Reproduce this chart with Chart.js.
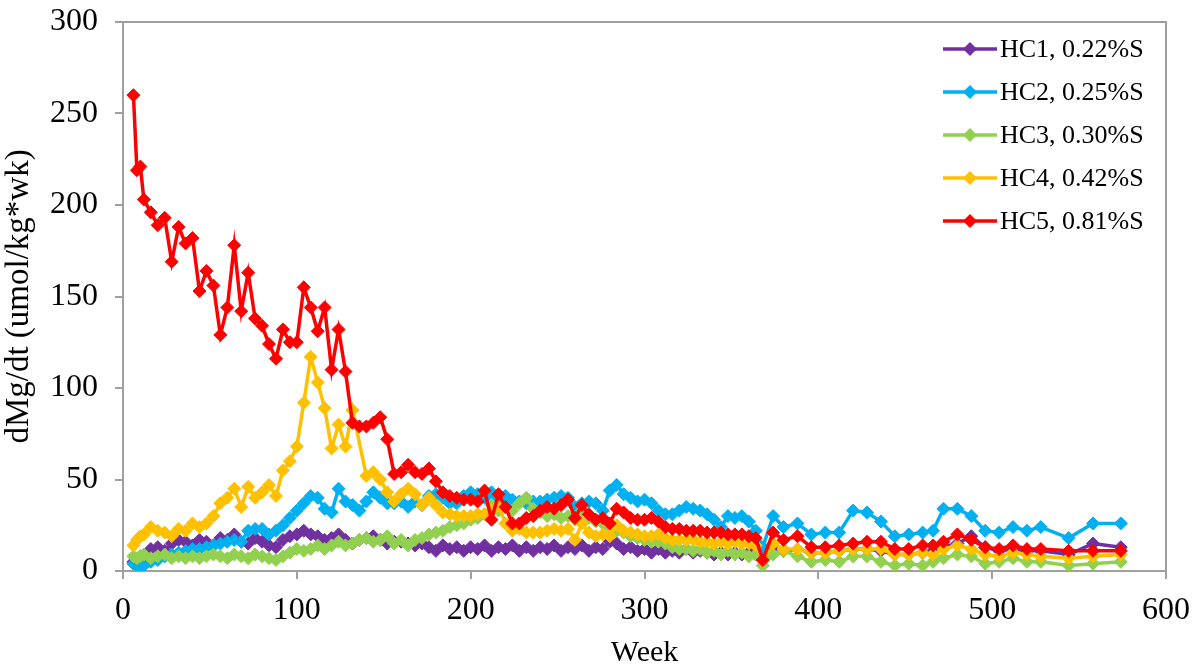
<!DOCTYPE html>
<html>
<head>
<meta charset="utf-8">
<title>dMg/dt by week</title>
<script src="https://cdn.jsdelivr.net/npm/chart.js@4.4.0/dist/chart.umd.min.js"></script>
<style>
  html, body { margin: 0; padding: 0; background: #fff; }
  #chart { display: block; }
</style>
</head>
<body>
<canvas id="chart" width="1200" height="671"></canvas>
<script>
// sampling weeks shared by all five cells
const weeks = [6, 8, 10, 12, 16, 20, 24, 28, 32, 36, 40, 44, 48, 52, 56, 60, 64, 68, 72, 76, 80, 84, 88, 92,
  96, 100, 104, 108, 112, 116, 120, 124, 128, 132, 136, 140, 144, 148, 152, 156, 160, 164, 168, 172, 176, 180,
  184, 188, 192, 196, 200, 204, 208, 212, 216, 220, 224, 228, 232, 236, 240, 244, 248, 252, 256, 260, 264, 268,
  272, 276, 280, 284, 288, 292, 296, 300, 304, 308, 312, 316, 320, 324, 328, 332, 336, 340, 344, 348, 352, 356,
  360, 364, 368, 374, 380, 388, 396, 404, 412, 420, 428, 436, 444, 452, 460, 466, 472, 480, 488, 496, 504, 512,
  520, 528, 544, 558, 574];

const hc1 = [5, 6, 8, 9,
  12, 13, 11, 15, 17, 16, 14, 17, 16, 14,
  18, 17, 20, 16, 15, 18, 16, 14, 13, 17,
  19, 20, 22, 20, 19, 17, 18, 20, 17, 15,
  17, 18, 19, 17, 15, 16, 16, 15, 14, 15,
  13, 11, 14, 12, 13, 11, 13, 12, 14, 11,
  13, 12, 14, 11, 13, 11, 13, 12, 14, 11,
  13, 12, 14, 11, 13, 12, 16, 15, 12, 13,
  11, 12, 10, 12, 10, 11, 10, 12, 10, 11,
  10, 9, 10, 9, 10, 9, 10, 9, 6,
  13, 11, 12, 10, 10, 11, 12, 12, 11, 9, 9, 10, 11, 13, 15, 19, 13, 11, 12, 11, 11, 9, 15, 13];

const hc2 = [4, 3, 2, 3,
  5, 6, 8, 9, 10, 11, 12, 12, 13, 14,
  15, 16, 17, 16, 22, 23, 23, 20, 22, 25,
  29, 33, 37, 41, 40, 34, 32, 45, 38, 36,
  33, 38, 43, 40, 37, 37, 38, 35, 38, 36,
  41, 42, 40, 37, 37, 41, 43, 42, 40, 43,
  40, 41, 39, 38, 37, 38, 38, 39, 40, 41,
  40, 35, 37, 38, 37, 33, 44, 47, 42, 40,
  38, 39, 37, 33, 31, 31, 33, 35, 34, 33,
  31, 28, 24, 30, 29, 30, 27, 22, 13,
  30, 24, 26, 20, 21, 21, 33, 32, 27, 19, 20, 21, 22, 34, 34, 30, 22, 21, 24, 22, 24, 18, 26, 26];

const hc3 = [8, 7, 8, 9,
  7, 8, 9, 7, 8, 7, 8, 7, 8, 9,
  8, 7, 9, 8, 7, 9, 8, 7, 6, 8,
  10, 12, 11, 12, 14, 12, 14, 16, 14, 15,
  17, 18, 16, 17, 19, 15, 17, 14, 17, 18,
  20, 21, 22, 24, 25, 26, 28, 29, 31, 36,
  33, 35, 33, 37, 40, 34, 32, 30, 31, 29,
  30, 28, 33, 29, 27, 26, 24, 22, 21, 19,
  18, 17, 16, 16, 15, 13, 12, 12, 11, 12,
  10, 11, 9, 11, 9, 10, 8, 9, 3,
  9, 11, 8, 5, 6, 5, 8, 8, 5, 3, 4, 3, 5, 7, 9, 8, 4, 5, 7, 5, 5, 3, 4, 5];

// week 136 was not sampled for HC4
const hc4 = [14, 17, 19, 20,
  24, 22, 21, 19, 23, 22, 26, 24, 26, 30,
  37, 40, 45, 35, 46, 40, 43, 47, 41, 55,
  60, 68, 92, 117, 103, 89, 67, 80, 68, 88,
  null, 52, 54, 50, 43, 38, 42, 45, 42, 36,
  40, 36, 32, 31, 30, 30, 30, 31, 31, 33,
  36, 26, 22, 23, 21, 21, 21, 22, 23, 22,
  23, 17, 26, 21, 19, 20, 19, 25, 22, 21,
  20, 19, 19, 20, 18, 17, 17, 17, 17, 16,
  16, 15, 16, 15, 16, 15, 15, 14, 6,
  15, 12, 12, 10, 10, 11, 12, 12, 12, 9, 9, 10, 9, 12, 14, 12, 9, 8, 10, 9, 8, 7, 8, 9];

const hc5 = [260, 219, 221, 203,
  196, 189, 193, 169, 188, 179, 182, 153, 164, 156,
  129, 144, 178, 142, 163, 138, 134, 124, 116, 132,
  125, 125, 155, 144, 131, 144, 110, 132, 109, 81,
  79, 79, 81, 84, 72, 53, 54, 58, 54, 53,
  56, 49, 43, 41, 40, 39, 39, 38, 44, 28,
  42, 35, 26, 26, 29, 30, 33, 35, 34, 36,
  39, 29, 36, 31, 28, 29, 26, 34, 32, 29,
  28, 28, 29, 27, 24, 23, 23, 22, 22, 22,
  21, 21, 21, 20, 20, 20, 19, 18, 6,
  21, 17, 19, 13, 13, 14, 15, 16, 16, 12, 12, 14, 14, 16, 20, 17, 13, 12, 14, 12, 12, 11, 11, 11];

const seriesNames = ['HC1, 0.22%S', 'HC2, 0.25%S', 'HC3, 0.30%S', 'HC4, 0.42%S', 'HC5, 0.81%S'];
const seriesColors = ['#7030A0', '#00B0F0', '#92D050', '#FFC000', '#FF0000'];
const seriesValues = [hc1, hc2, hc3, hc4, hc5];

const xTicks = [0, 100, 200, 300, 400, 500, 600];
const yTicks = [0, 50, 100, 150, 200, 250, 300];

const SERIF = '"Liberation Serif", "Times New Roman", Times, serif';
const AXIS_GRAY = '#a0a0a0';

const datasets = seriesValues.map((vals, i) => ({
  label: seriesNames[i],
  data: weeks.map((w, k) => ({ x: w, y: vals[k] })),
  borderColor: seriesColors[i],
  backgroundColor: seriesColors[i],
  borderWidth: 3.5,
  pointStyle: 'rectRot',
  pointRadius: 6.5,
  pointBorderWidth: 1,
  tension: 0,
  spanGaps: true,
  // later cells are painted over earlier ones
  order: seriesValues.length - i
}));

// top and right edges of the plot frame
const frame = {
  id: 'frame',
  afterDraw(chart) {
    const { ctx, chartArea: a } = chart;
    ctx.save();
    ctx.strokeStyle = AXIS_GRAY;
    ctx.lineWidth = 2;
    ctx.beginPath();
    ctx.moveTo(a.left, a.top);
    ctx.lineTo(a.right, a.top);
    ctx.lineTo(a.right, a.bottom);
    ctx.stroke();
    ctx.restore();
  }
};

// legend in the upper right corner of the plot
const cornerLegend = {
  id: 'cornerLegend',
  afterDraw(chart) {
    const ctx = chart.ctx;
    const x0 = 943, x1 = 997, top = 49, step = 43;
    ctx.save();
    ctx.font = '26px ' + SERIF;
    ctx.textBaseline = 'middle';
    ctx.textAlign = 'left';
    chart.data.datasets.forEach((ds, i) => {
      const y = top + i * step;
      ctx.strokeStyle = ds.borderColor;
      ctx.lineWidth = 3.5;
      ctx.beginPath();
      ctx.moveTo(x0, y);
      ctx.lineTo(x1, y);
      ctx.stroke();
      const cx = (x0 + x1) / 2, r = 7;
      ctx.fillStyle = ds.borderColor;
      ctx.beginPath();
      ctx.moveTo(cx, y - r);
      ctx.lineTo(cx + r, y);
      ctx.lineTo(cx, y + r);
      ctx.lineTo(cx - r, y);
      ctx.closePath();
      ctx.fill();
      ctx.fillStyle = '#000';
      ctx.fillText(ds.label, x1 + 3, y + 1);
    });
    ctx.restore();
  }
};

new Chart(document.getElementById('chart'), {
  type: 'line',
  data: { datasets },
  options: {
    responsive: false,
    animation: false,
    layout: { padding: { left: 0, right: 34, top: 22, bottom: 0 } },
    plugins: {
      legend: { display: false },
      tooltip: { enabled: false }
    },
    scales: {
      x: {
        type: 'linear',
        min: 0,
        max: 600,
        afterBuildTicks(scale) { scale.ticks = xTicks.map(v => ({ value: v })); },
        afterFit(scale) {
          scale.height = 100;
          scale.paddingLeft = 0;
          scale.paddingRight = 0;
        },
        ticks: { color: '#000', padding: 12, font: { family: SERIF, size: 32 } },
        grid: { drawOnChartArea: false, drawTicks: true, tickLength: 8, color: AXIS_GRAY, lineWidth: 2 },
        border: { color: AXIS_GRAY, width: 2 },
        title: { display: true, text: 'Week', color: '#000', font: { family: SERIF, size: 30 }, padding: { top: 0, bottom: 0 } }
      },
      y: {
        min: 0,
        max: 300,
        afterBuildTicks(scale) { scale.ticks = yTicks.map(v => ({ value: v })); },
        afterFit(scale) {
          // fixed gutter; the page padding already leaves room for the top label
          scale.width = 123;
          scale.paddingTop = 0;
          scale.paddingBottom = 0;
        },
        ticks: { color: '#000', padding: 17, font: { family: SERIF, size: 32 } },
        grid: { drawOnChartArea: false, drawTicks: true, tickLength: 8, color: AXIS_GRAY, lineWidth: 2 },
        border: { color: AXIS_GRAY, width: 2 },
        title: { display: true, text: 'dMg/dt (umol/kg*wk)', color: '#000', font: { family: SERIF, size: 33 }, padding: { top: 0, bottom: 2 } }
      }
    }
  },
  plugins: [frame, cornerLegend]
});
</script>
</body>
</html>
